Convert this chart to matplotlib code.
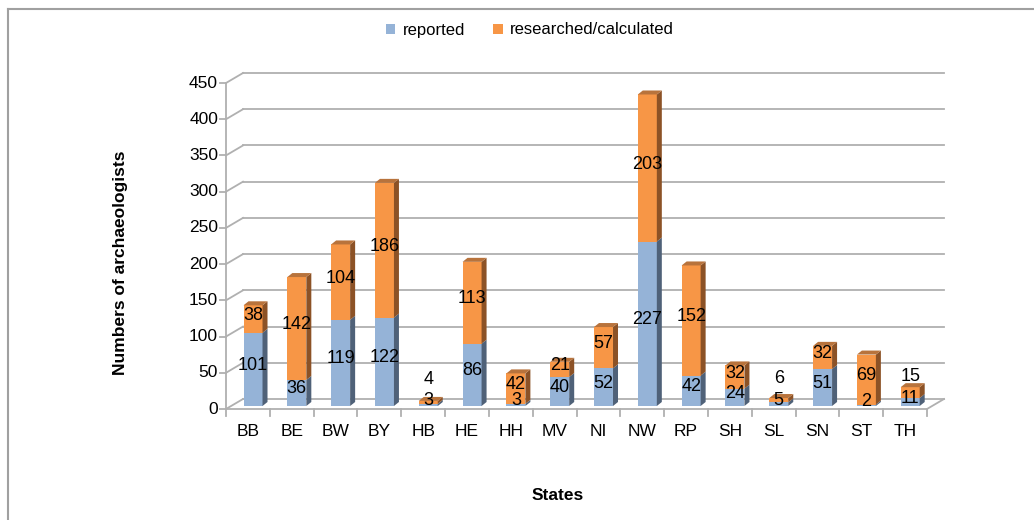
import matplotlib
matplotlib.use("Agg")
import matplotlib.pyplot as plt
from matplotlib.patches import Polygon, Patch
from matplotlib.lines import Line2D

plt.rcParams["font.family"] = ["Liberation Sans", "DejaVu Sans"]

# data
states = ["BB", "BE", "BW", "BY", "HB", "HE", "HH", "MV",
          "NI", "NW", "RP", "SH", "SL", "SN", "ST", "TH"]
reported = [101, 36, 119, 122, 3, 86, 3, 40, 52, 227, 42, 24, 5, 51, 2, 11]
researched = [38, 142, 104, 186, 4, 113, 42, 21, 57, 203, 152, 32, 6, 32, 69, 15]
yticks = list(range(0, 451, 50))

# colours
blue = ["#95b3d7", "#4f6178", "#7890ad"]      # front, side, top
orange = ["#f79646", "#8c5226", "#b8733c"]
grid_c = "#b0b0b0"

W, H = 1034, 520
fig = plt.figure(figsize=(W / 100, H / 100), dpi=100)

# axes placed so that the front plane matches the picture
x0, y0 = 226, 409          # pixel of (0, 0)
wpx, hpx = 701, 326        # 16 categories, 450 units
ax = fig.add_axes([x0 / W, (H - y0) / H, wpx / W, hpx / H])
ax.set_xlim(0, 16)
ax.set_ylim(0, 450)
ax.axis("off")

pxx = wpx / 16.0
pxy = hpx / 450.0
dxw, dyw = 17 / pxx, 10 / pxy      # wall depth
f = 0.3                            # depth of bar front face
bx, by = f * dxw, f * dyw
sdx, sdy = 5 / pxx, 4 / pxy        # bar side / top depth
bw = 19 / pxx

# back wall gridlines and left wall diagonals
for v in yticks:
    ax.plot([dxw, 16 + dxw], [v + dyw, v + dyw], color=grid_c, lw=1.3, clip_on=False, zorder=1)
    ax.plot([0, dxw], [v, v + dyw], color=grid_c, lw=1.3, clip_on=False, zorder=1)
# floor
ax.plot([0, 16], [0, 0], color=grid_c, lw=1.3, clip_on=False, zorder=1)
ax.plot([16, 16 + dxw], [0, dyw], color=grid_c, lw=1.3, clip_on=False, zorder=1)
# y axis
ax.plot([0, 0], [0, 450], color=grid_c, lw=1.3, clip_on=False, zorder=1)
for v in yticks:
    ax.plot([-6 / pxx, 0], [v, v], color=grid_c, lw=1.3, clip_on=False)
    ax.text(-8 / pxx, v, str(v), ha="right", va="center", fontsize=12.5)
for k in range(17):
    ax.plot([k, k], [0, -7 / pxy], color=grid_c, lw=1.3, clip_on=False)
for i, s in enumerate(states):
    ax.text(i + 0.5, -15 / pxy, s, ha="center", va="top", fontsize=12.5)


def box(x, y1, y2, cols, top):
    ax.add_patch(Polygon([(x, y1), (x + bw, y1), (x + bw, y2), (x, y2)],
                         closed=True, fc=cols[0], ec="none", zorder=3, clip_on=False))
    ax.add_patch(Polygon([(x + bw, y1), (x + bw + sdx, y1 + sdy), (x + bw + sdx, y2 + sdy), (x + bw, y2)],
                         closed=True, fc=cols[1], ec="none", zorder=3, clip_on=False))
    if top:
        ax.add_patch(Polygon([(x, y2), (x + bw, y2), (x + bw + sdx, y2 + sdy), (x + sdx, y2 + sdy)],
                             closed=True, fc=cols[2], ec="none", zorder=3, clip_on=False))


lift = 4 / pxy
for i, (r, c) in enumerate(zip(reported, researched)):
    x = i + 0.5 - bw / 2 + bx
    box(x, by, by + r, blue, False)
    box(x, by + r, by + r + c, orange, True)
    cx = x + bw / 2
    yr = max(by + r / 2 + lift, 8)
    yc = by + r + c / 2 + lift
    if c < 25:
        yc = max(yc, yr + 30)
    ax.text(cx, yr, str(r), ha="center", va="center", fontsize=13, zorder=5)
    ax.text(cx, yc, str(c), ha="center", va="center", fontsize=13, zorder=5)

# axis titles
fig.text(120 / W, 1 - 263 / H, "Numbers of archaeologists", rotation=90,
         ha="center", va="center", fontsize=12.5, fontweight="bold")
fig.text(558 / W, 1 - 495 / H, "States", ha="center", va="center",
         fontsize=12.5, fontweight="bold")

# legend
handles = [Patch(fc=blue[0], ec="none"), Patch(fc=orange[0], ec="none")]
fig.legend(handles, ["reported", "researched/calculated"], loc="center",
           bbox_to_anchor=(530 / W, 1 - 30 / H), ncol=2, frameon=False,
           fontsize=12, handlelength=0.55, handleheight=0.55, handletextpad=0.45,
           columnspacing=1.7)

# outer frame
fig.add_artist(Line2D([8 / W, 1], [1 - 9 / H, 1 - 9 / H], color="#a0a0a0", lw=1.5))
fig.add_artist(Line2D([8 / W, 8 / W], [0, 1 - 9 / H], color="#a0a0a0", lw=1.5))

fig.savefig("out.png", dpi=100)
